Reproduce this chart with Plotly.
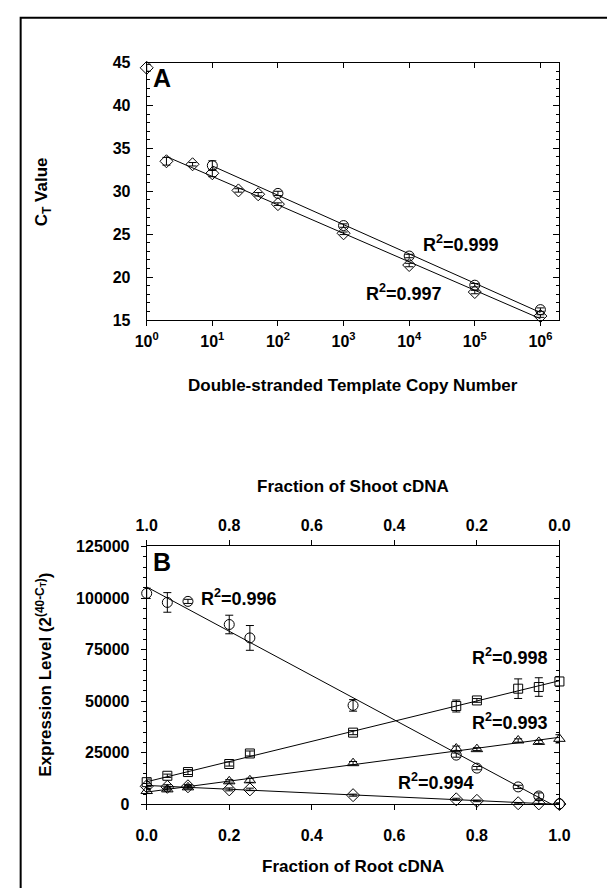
import numpy as np
import plotly.graph_objects as go

# ---------------- Data: panel A ----------------
copies_dia = [1, 2, 5, 10, 25, 50, 100, 1e3, 1e4, 1e5, 1e6]
ct_dia = [44.4, 33.5, 33.15, 32.1, 30.1, 29.65, 28.5, 25.1, 21.4, 18.25, 15.45]
ct_dia_err = [0.4, 0.45, 0.2, 0.4, 0.2, 0.2, 0.15, 0.15, 0.2, 0.2, 0.15]
copies_cir = [10, 100, 1e3, 1e4, 1e5, 1e6]
ct_cir = [33.0, 29.75, 26.0, 22.45, 19.05, 16.2]
ct_cir_err = [0.55, 0.25, 0.2, 0.2, 0.2, 0.2]
r2_A = ["0.999", "0.997"]
decade_vals = [1, 10, 100, 1e3, 1e4, 1e5, 1e6]
decade_text = ["10<sup>%d</sup>" % i for i in range(7)]

# ---------------- Data: panel B ----------------
root_frac = [0, 0.05, 0.1, 0.2, 0.25, 0.5, 0.75, 0.8, 0.9, 0.95, 1.0]
circ = [102300, 97900, 98400, 87200, 80700, 48000, 23900, 17600, 8500, 4100, 300]
circ_err = [2500, 4750, 1000, 4500, 6000, 2800, 1000, 800, 800, 1500, 500]
sq = [10800, 13900, 15700, 19600, 24700, 34800, 47700, 50400, 56100, 56900, 59600]
sq_err = [1500, 800, 1200, 1000, 1200, 1000, 2900, 900, 4750, 4500, 2400]
tri = [6500, 7300, 8300, 11200, 11700, 20000, 27100, 26800, 31000, 30300, 31800]
tri_err = [1200, 800, 800, 800, 1000, 800, 1200, 700, 800, 800, 2000]
dia = [8800, 8550, 8800, 7300, 7300, 4500, 2500, 1750, 600, 500, 200]
dia_err = [1500, 1000, 800, 700, 600, 500, 500, 400, 300, 1500, 300]
r2_B = ["0.996", "0.998", "0.993", "0.994"]

W, H = 607, 888
FONT = "Liberation Sans, Arial, sans-serif"


def px_x(p):
    return p / W


def px_y(p):
    return 1 - p / H


domx = [px_x(140), px_x(569)]
domA = [px_y(318), px_y(55.7)]
domB = [px_y(812), px_y(549)]

fig = go.Figure()

mk = dict(color="black", width=1)


def add_pts(x, y, err, sym, size, xa, ya):
    fig.add_trace(go.Scatter(
        x=x, y=y, mode="markers", xaxis=xa, yaxis=ya, cliponaxis=False,
        marker=dict(symbol=sym, size=size, color="black", line=mk),
        error_y=dict(type="data", array=err, color="black", thickness=1, width=4),
        showlegend=False, hoverinfo="skip"))


def add_fit(x, y, xfit, xa, ya, logx=False):
    xx = np.log10(x) if logx else np.asarray(x, float)
    k, b = np.polyfit(xx, y, 1)
    xf = np.array(xfit, float)
    xfl = np.log10(xf) if logx else xf
    fig.add_trace(go.Scatter(
        x=xf, y=k * xfl + b, mode="lines", xaxis=xa, yaxis=ya,
        line=dict(color="black", width=1), showlegend=False, hoverinfo="skip"))


# Panel A fits and points
add_fit(copies_cir, ct_cir, [copies_cir[0], copies_cir[-1]], "x", "y", logx=True)
add_fit(copies_dia[1:], ct_dia[1:], [copies_dia[1], copies_dia[-1]], "x", "y", logx=True)
add_pts(copies_dia, ct_dia, ct_dia_err, "diamond-open", 10, "x", "y")
add_pts(copies_cir, ct_cir, ct_cir_err, "circle-open", 10, "x", "y")

# Panel B fits and points
for series in (circ, sq, tri, dia):
    add_fit(root_frac, series, [0, 1], "x2", "y2")
add_pts(root_frac, circ, circ_err, "circle-open", 10, "x2", "y2")
add_pts(root_frac, sq, sq_err, "square-open", 9, "x2", "y2")
add_pts(root_frac, tri, tri_err, "triangle-up-open", 10, "x2", "y2")
add_pts(root_frac, dia, dia_err, "diamond-open", 10, "x2", "y2")

tickfont = dict(family=FONT, size=16, color="black", weight="bold")
base = dict(showline=True, linecolor="black", linewidth=1, showgrid=False,
            zeroline=False, tickcolor="black", tickwidth=1, tickfont=tickfont)

xr_A = [0, np.log10(1.95e6)]
fig.update_layout(
    width=W, height=H, margin=dict(l=0, r=0, t=0, b=0),
    paper_bgcolor="white", plot_bgcolor="white", showlegend=False,
    xaxis=dict(**base, type="log", range=xr_A, domain=domx, anchor="y",
               ticks="outside", ticklen=5, tickvals=decade_vals, ticktext=decade_text,
               ticklabelstandoff=2),
    xaxis3=dict(**base, type="log", range=xr_A, overlaying="x", anchor="y", side="top",
                ticks="inside", ticklen=5, tickvals=decade_vals, showticklabels=False),
    yaxis=dict(**base, range=[15, 45], domain=domA, anchor="x", ticks="inside",
               ticklen=6, dtick=5, tick0=15, mirror="ticks", ticklabelstandoff=12,
               minor=dict(dtick=1, ticks="inside", ticklen=3, tickcolor="black")),
    xaxis2=dict(**base, range=[0, 1], domain=domx, anchor="y2", ticks="outside",
                ticklen=5, dtick=0.2, tickformat=".1f", ticklabelstandoff=11),
    xaxis4=dict(**base, range=[1, 0], overlaying="x2", anchor="y2", side="top",
                ticks="outside", ticklen=5, dtick=0.2, tickformat=".1f",
                ticklabelstandoff=3),
    yaxis2=dict(**base, range=[0, 125000], domain=domB, anchor="x2", ticks="outside",
                ticklen=5, dtick=25000, tickformat="d", ticklabelstandoff=8,
                minor=dict(dtick=5000, ticks="outside", ticklen=3, tickcolor="black")),
    yaxis4=dict(**base, range=[0, 125000], overlaying="y2", anchor="x2", side="right",
                ticks="inside", ticklen=5, dtick=25000, showticklabels=False,
                minor=dict(dtick=5000, ticks="inside", ticklen=3, tickcolor="black")),
)

# dummy traces so overlay axes render
fig.add_trace(go.Scatter(x=[1], y=[None], xaxis="x3", yaxis="y", showlegend=False, hoverinfo="skip"))
fig.add_trace(go.Scatter(x=[0.5], y=[None], xaxis="x4", yaxis="y4", showlegend=False, hoverinfo="skip"))

ann = []


def txt(text, x, y, size, xref="paper", yref="paper", angle=0):
    ann.append(dict(text=text, x=x, y=y, xref=xref, yref=yref, showarrow=False,
                    xanchor="center", yanchor="middle", textangle=angle,
                    font=dict(family=FONT, size=size, color="black", weight="bold")))


# Panel labels and R^2 labels (data coordinates)
txt("A", 0.235, 43.25, 25, "x", "y")
txt("R<sup>2</sup>=" + r2_A[0], 4.79, 23.9, 18, "x", "y")
txt("R<sup>2</sup>=" + r2_A[1], 3.92, 18.2, 18, "x", "y")
txt("B", 0.037, 117400, 25, "x2", "y2")
txt("R<sup>2</sup>=" + r2_B[0], 0.224, 100300, 18, "x2", "y2")
txt("R<sup>2</sup>=" + r2_B[1], 0.880, 71800, 18, "x2", "y2")
txt("R<sup>2</sup>=" + r2_B[2], 0.880, 40400, 18, "x2", "y2")
txt("R<sup>2</sup>=" + r2_B[3], 0.701, 10900, 18, "x2", "y2")

# Axis titles
txt("Double-stranded Template Copy Number", px_x(354), px_y(385), 17)
txt("Fraction of Shoot cDNA", px_x(354), px_y(488), 17)
txt("Fraction of Root cDNA", px_x(354), px_y(875), 17)
txt("C<sub>T</sub> Value", px_x(33), px_y(187), 17, angle=-90)
txt("Expression Level (2<sup>(40-C<sub>T</sub>)</sup>)", px_x(33), px_y(680), 17, angle=-90)

fig.update_layout(annotations=ann)

# outer frame
fig.add_shape(type="rect", xref="paper", yref="paper",
              x0=px_x(9), x1=1.05, y0=-0.05, y1=px_y(10),
              line=dict(color="black", width=2), fillcolor="rgba(0,0,0,0)")

fig.write_html("out.html")
